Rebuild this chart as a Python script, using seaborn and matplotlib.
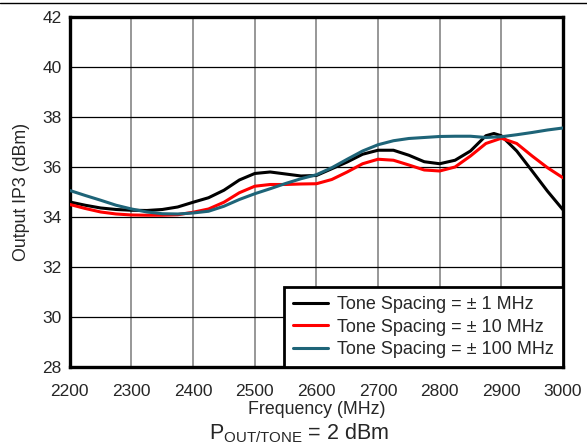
import matplotlib
matplotlib.use("Agg")
import matplotlib.pyplot as plt
import matplotlib.lines as mlines
import seaborn as sns
import pandas as pd

# Output IP3 versus frequency for three two-tone spacings
freq_1mhz = [2200, 2225, 2250, 2275, 2300, 2325, 2350, 2375, 2400, 2425, 2450,
             2475, 2500, 2525, 2550, 2575, 2600, 2625, 2650, 2675, 2700, 2725,
             2750, 2775, 2800, 2825, 2850, 2875, 2888, 2900, 2925, 2950, 2975, 3000]
ip3_1mhz = [34.60, 34.47, 34.36, 34.30, 34.27, 34.26, 34.30, 34.40, 34.59, 34.77, 35.07,
            35.48, 35.74, 35.80, 35.72, 35.64, 35.66, 35.93, 36.20, 36.51, 36.67, 36.67,
            36.47, 36.21, 36.13, 36.27, 36.64, 37.25, 37.34, 37.25, 36.64, 35.84, 35.03, 34.29]

freq_10mhz = [2200, 2225, 2250, 2275, 2300, 2325, 2350, 2375, 2400, 2425, 2450,
              2475, 2500, 2525, 2550, 2575, 2600, 2625, 2650, 2675, 2700, 2725,
              2750, 2775, 2800, 2825, 2850, 2875, 2900, 2925, 2950, 2975, 3000]
ip3_10mhz = [34.50, 34.34, 34.20, 34.12, 34.08, 34.07, 34.07, 34.09, 34.19, 34.32, 34.59,
             34.97, 35.23, 35.30, 35.30, 35.32, 35.33, 35.50, 35.80, 36.13, 36.31, 36.27,
             36.08, 35.88, 35.84, 36.00, 36.44, 36.94, 37.15, 36.94, 36.44, 35.97, 35.57]

freq_100mhz = [2200, 2225, 2250, 2275, 2300, 2325, 2350, 2375, 2400, 2425, 2450,
               2475, 2500, 2525, 2550, 2575, 2600, 2625, 2650, 2675, 2700, 2725,
               2750, 2775, 2800, 2825, 2850, 2875, 2900, 2925, 2950, 2975, 3000]
ip3_100mhz = [35.06, 34.86, 34.67, 34.47, 34.32, 34.20, 34.13, 34.12, 34.16, 34.23, 34.43,
              34.70, 34.93, 35.13, 35.34, 35.53, 35.69, 35.97, 36.31, 36.64, 36.89, 37.05,
              37.14, 37.18, 37.22, 37.23, 37.23, 37.18, 37.21, 37.29, 37.38, 37.48, 37.56]

series_labels = ["Tone Spacing = \u00b1 1 MHz",
                 "Tone Spacing = \u00b1 10 MHz",
                 "Tone Spacing = \u00b1 100 MHz"]
series_colors = ["#000000", "#ff0000", "#1e6478"]

x_ticks = [2200, 2300, 2400, 2500, 2600, 2700, 2800, 2900, 3000]
y_ticks = [28, 30, 32, 34, 36, 38, 40, 42]

frames = []
for lab, f, v in zip(series_labels,
                     [freq_1mhz, freq_10mhz, freq_100mhz],
                     [ip3_1mhz, ip3_10mhz, ip3_100mhz]):
    frames.append(pd.DataFrame({"Frequency": f, "IP3": v, "Series": lab}))
df = pd.concat(frames, ignore_index=True)

sns.set_style("white")
plt.rcParams["font.family"] = ["Liberation Sans", "DejaVu Sans"]

fig = plt.figure(figsize=(5.87, 4.47), dpi=100)
ax = fig.add_axes([0.119, 0.179, 0.840, 0.783])

sns.lineplot(data=df, x="Frequency", y="IP3", hue="Series",
             palette=dict(zip(series_labels, series_colors)),
             linewidth=2.2, ax=ax, legend=False, sort=True, zorder=3)

ax.set_xlim(2200, 3000)
ax.set_ylim(28, 42)
ax.set_xticks(x_ticks)
ax.set_yticks(y_ticks)
ax.tick_params(axis="both", length=0, labelsize=12.5)
ax.tick_params(axis="x", pad=12)
ax.tick_params(axis="y", pad=6)

# grid: grey verticals, black horizontals
for xv in x_ticks[1:-1]:
    ax.axvline(xv, color="#7a7a7a", linewidth=1.1, zorder=1)
for yv in y_ticks[1:-1]:
    ax.axhline(yv, color="#000000", linewidth=0.9, zorder=1)

for sp in ax.spines.values():
    sp.set_linewidth(2.4)
    sp.set_color("black")

ax.set_xlabel("Frequency (MHz)", fontsize=12.8, labelpad=2)
ax.set_ylabel("Output IP3 (dBm)", fontsize=12.8, labelpad=9)

handles = [mlines.Line2D([], [], color=c, linewidth=2.2) for c in series_colors]
leg = ax.legend(handles, series_labels, loc="lower right", fontsize=13,
                frameon=True, fancybox=False, framealpha=1,
                edgecolor="black", borderaxespad=0, handlelength=1.95,
                handletextpad=0.5, labelspacing=0.3, borderpad=0.5)
leg.get_frame().set_linewidth(2.0)
leg.set_zorder(5)

fig.text(0.509, 0.016, r"P$_{\mathregular{OUT/TONE}}$ = 2 dBm",
         ha="center", va="baseline", fontsize=15.5)

# rule across the top of the figure
fig.add_artist(mlines.Line2D([0, 1], [0.993, 0.993], color="black",
                             linewidth=1.0, transform=fig.transFigure))

fig.savefig("out.png", dpi=100)
